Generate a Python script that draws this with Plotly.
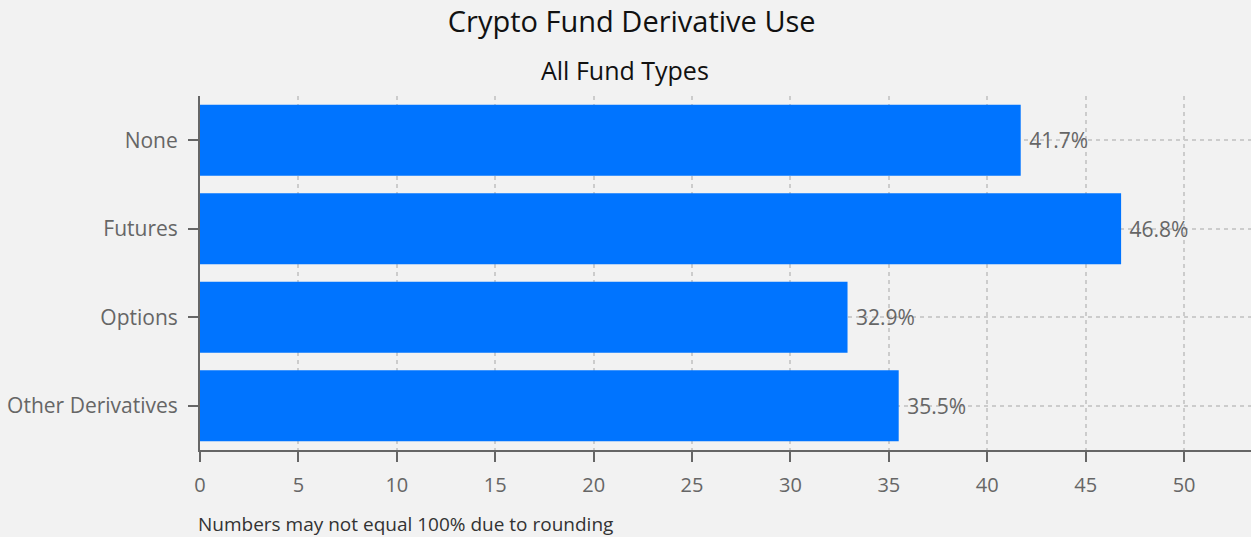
import plotly.graph_objects as go

categories = ["None", "Futures", "Options", "Other Derivatives"]
values = [41.7, 46.8, 32.9, 35.5]
labels = ["41.7%", "46.8%", "32.9%", "35.5%"]
x_ticks = [0, 5, 10, 15, 20, 25, 30, 35, 40, 45, 50]

FONT = "Open Sans"
BG = "#f2f2f2"

fig = go.Figure(go.Bar(
    x=values, y=categories, orientation="h",
    marker=dict(color="#0074ff", line=dict(width=0)),
    width=0.8,
    text=["\u00a0" + t for t in labels], textposition="outside", cliponaxis=False,
    textfont=dict(family=FONT, size=21, color="#666666"),
))

fig.update_layout(
    width=1251, height=537,
    paper_bgcolor=BG, plot_bgcolor=BG,
    margin=dict(l=200, r=0, t=96, b=87),
    font=dict(family=FONT, color="#666666"),
    showlegend=False,
    title=dict(text="Crypto Fund Derivative Use", x=0.505, xanchor="center",
               y=1 - 22/537, yanchor="middle",
               font=dict(family=FONT, size=29, color="#111111")),
    annotations=[
        dict(text="All Fund Types", xref="paper", yref="paper", x=(625-200)/1051,
             y=1 + (96-70)/354, xanchor="center", yanchor="middle", showarrow=False,
             font=dict(family=FONT, size=25, color="#111111")),
        dict(text="Numbers may not equal 100% due to rounding", xref="paper", yref="paper",
             x=-4/1051, y=-(524-450)/354, xanchor="left", yanchor="middle", showarrow=False,
             font=dict(family=FONT, size=19, color="#333333")),
    ],
)

fig.update_xaxes(
    range=[0, 53.4], tickvals=x_ticks, ticktext=[str(v) for v in x_ticks],
    showline=True, linecolor="#666666", linewidth=2,
    ticks="outside", ticklen=10, tickwidth=2, tickcolor="#666666",
    showgrid=True, gridcolor="#cccccc", griddash="4px,4px", gridwidth=1.5,
    zeroline=False, ticklabelstandoff=6,
    tickfont=dict(family=FONT, size=20, color="#666666"),
)
fig.update_yaxes(
    categoryorder="array", categoryarray=categories, autorange="reversed",
    showline=True, linecolor="#666666", linewidth=2,
    ticks="outside", ticklen=10, tickwidth=2, tickcolor="#666666",
    showgrid=True, gridcolor="#cccccc", griddash="4px,4px", gridwidth=1.5,
    ticklabelstandoff=6,
    tickfont=dict(family=FONT, size=21, color="#666666"),
)

fig.write_html("out.html", config={"displayModeBar": False},
               post_script="document.body.style.margin='0';")
